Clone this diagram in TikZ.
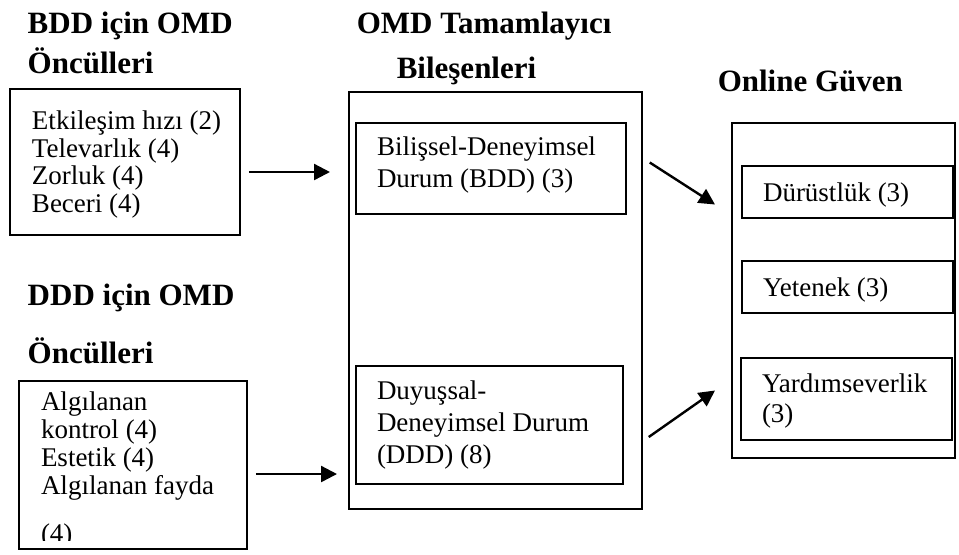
\documentclass[tikz,border=0pt]{standalone}
\usepackage{fontspec}
\setmainfont{Liberation Serif}
\usetikzlibrary{calc}
\usetikzlibrary{arrows.meta}

\begin{document}
\begin{tikzpicture}[x=.5pt, y=-.5pt, line width=.75pt,
	ok/.style={-{Triangle[length=8pt,width=8pt]}, line width=1.2pt},
	kutu/.style={draw, inner sep=0pt},
	metin/.style={anchor=north west, align=left, inner sep=0pt},
	baslik/.style={anchor=base west, inner sep=0pt, font=\bfseries\fontsize{15.5}{18}\selectfont}]
	\useasboundingbox (0,0) rectangle (959,554);
	\node[baslik] (b1) at (27,33) {BDD için OMD};
	\node[baslik] (b2) at (27,73) {Öncülleri};
	\node[baslik] (b3) at (356,33) {OMD Tamamlayıcı};
	\node[baslik] (b4) at (396,78) {Bileşenleri};
	\node[baslik] (b5) at (717,91) {Online Güven};
	\node[baslik] (b6) at (27,305) {DDD için OMD};
	\node[baslik] (b7) at (27,363) {Öncülleri};
	\node[kutu, minimum width=115pt, minimum height=73pt] (bddk) at (125,162) {};
	\node[metin, font=\fontsize{13.5}{13.75}\selectfont] (bddm) at ($(bddk.north west)+(11pt,-11pt)$)
		{Etkileşim hızı (2)\\Televarlık (4)\\Zorluk (4)\\Beceri (4)};
	\node[kutu, minimum width=114pt, minimum height=84pt] (dddk) at (133,465) {};
	\begin{scope}
		\clip (dddk.north west) rectangle ([yshift=4.5pt]dddk.south east);
		\node[metin, font=\fontsize{13.5}{14}\selectfont] (dddm) at ($(dddk.north west)+(11pt,-5.5pt)$)
			{Algılanan\\kontrol (4)\\Estetik (4)\\Algılanan fayda\\[10pt](4)};
	\end{scope}
	\node[kutu, line width=1pt, minimum width=146.5pt, minimum height=208.5pt] (omd) at (495.5,300.5) {};
	\node[kutu, minimum width=135pt, minimum height=45.5pt] (bddic) at (491,168.5) {};
	\node[metin, font=\fontsize{13.5}{16}\selectfont] (bddicm) at ($(bddic.north west)+(10.5pt,-7pt)$)
		{Bilişsel-Deneyimsel\\Durum (BDD) (3)};
	\node[kutu, minimum width=133.5pt, minimum height=59pt] (dddic) at (489.5,425) {};
	\node[metin, font=\fontsize{13.5}{16}\selectfont] (dddicm) at ($(dddic.north west)+(10.5pt,-7.5pt)$)
		{Duyuşsal-\\Deneyimsel Durum\\(DDD) (8)};
	\node[kutu, line width=1pt, minimum width=111.5pt, minimum height=167.5pt] (guven) at (843.5,290.5) {};
	\node[kutu, minimum width=105.5pt, minimum height=26pt] (durust) at (847.5,192) {};
	\node[metin, font=\fontsize{13.5}{15}\selectfont] (durustm) at ($(durust.north west)+(10.5pt,-8.5pt)$) {Dürüstlük (3)};
	\node[kutu, minimum width=105.5pt, minimum height=26pt] (yetenek) at (847.5,287) {};
	\node[metin, font=\fontsize{13.5}{15}\selectfont] (yetenekm) at ($(yetenek.north west)+(10.5pt,-8.5pt)$) {Yetenek (3)};
	\node[kutu, minimum width=105.5pt, minimum height=41pt] (yardim) at (846.5,399) {};
	\node[metin, font=\fontsize{13.5}{15}\selectfont] (yardimm) at ($(yardim.north west)+(10.5pt,-8pt)$) {Yardımseverlik\\(3)};
	\coordinate (o1) at ([shift={(4pt,-5pt)}]bddk.east);
	\coordinate (o1b) at ([xshift=-9pt]omd.west);
	\coordinate (o2) at ([shift={(4pt,-4.5pt)}]dddk.east);
	\coordinate (o2b) at ([xshift=-5.5pt]omd.west);
	\draw[ok] (o1) -- (o1 -| o1b);
	\draw[ok] (o2) -- (o2 -| o2b);
	\draw[ok] ([shift={(11.5pt,3pt)}]bddic.east) -- ([shift={(-8pt,43pt)}]guven.west);
	\draw[ok] ([shift={(12.5pt,-6pt)}]dddic.east) -- ([shift={(-8pt,-50pt)}]guven.west);
\end{tikzpicture}
\end{document}
